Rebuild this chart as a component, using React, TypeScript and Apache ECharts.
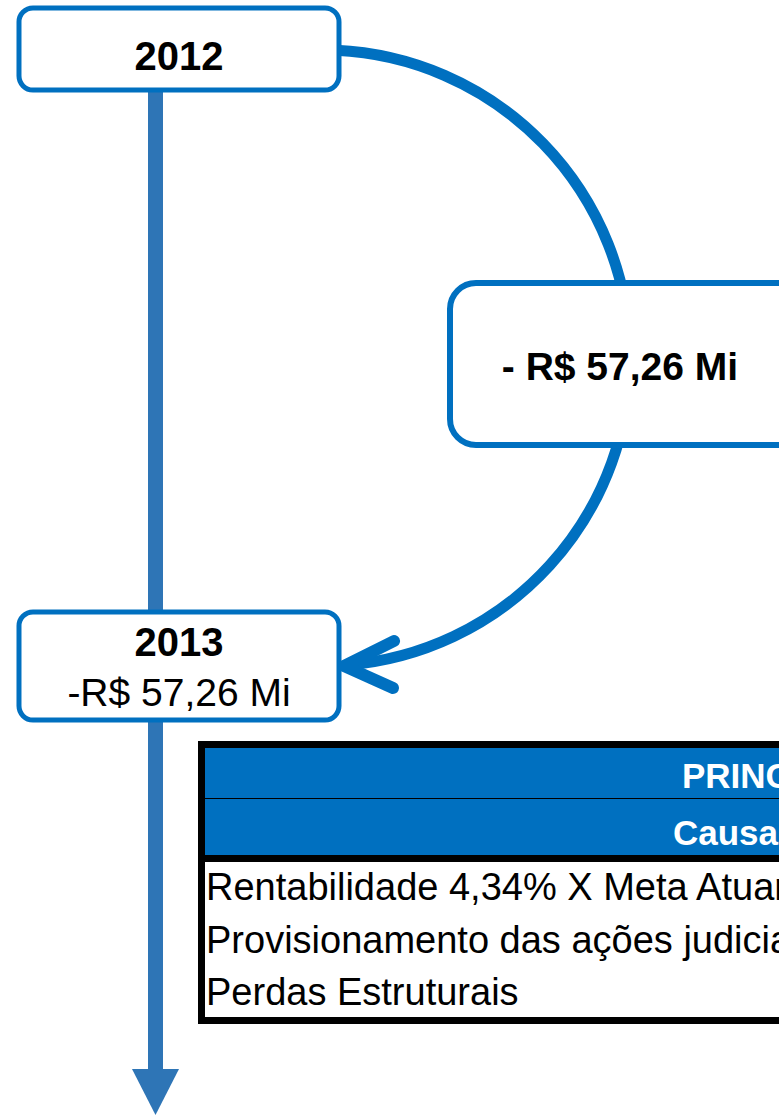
import React, { useEffect, useRef } from "react";
import * as echarts from "echarts";

const years = ["2012", "2013"];
const resultLabel = "- R$ 57,26 Mi";
const resultValue2013 = "-R$ 57,26 Mi";
const tableTitle = "PRINCIPAIS CAUSAS";
const tableHeader = "Causa";
const causes = [
  "Rentabilidade 4,34% X Meta Atuarial",
  "Provisionamento das ações judiciais",
  "Perdas Estruturais",
];

const FONT = '"Liberation Sans", Arial, sans-serif';
const BLUE = "#0070C0";
const LINE_BLUE = "#2E75B6";

export default function App() {
  const ref = useRef<HTMLDivElement>(null);
  useEffect(() => {
    if (!ref.current) return;
    const chart = echarts.init(ref.current, null, { renderer: "svg" });
    const cx = 322, cy = 358, r = 308;
    const a0 = Math.atan2(-Math.sqrt(r * r - 14 * 14), 14);
    const a1 = Math.atan2(Math.sqrt(r * r - 24 * 24), 24);
    const rowYs = [887, 940, 992];
    const graphic: any[] = [
      // vertical timeline
      { type: "rect", z: 1, shape: { x: 148, y: 80, width: 15, height: 992 }, style: { fill: LINE_BLUE } },
      { type: "polygon", z: 1, shape: { points: [[132, 1069], [179, 1069], [155.5, 1115]] }, style: { fill: LINE_BLUE } },
      // curved arrow
      {
        type: "arc", z: 2,
        shape: { cx, cy, r, startAngle: a0, endAngle: a1, clockwise: true },
        style: { stroke: BLUE, lineWidth: 11, fill: null },
      },
      {
        type: "polyline", z: 2,
        shape: { points: [[394, 641], [344, 666], [393, 688]] },
        style: { stroke: BLUE, lineWidth: 12, lineCap: "round", lineJoin: "miter", fill: null },
      },
      // boxes
      { type: "rect", z: 5, shape: { x: 19, y: 8, width: 320, height: 82, r: 14 }, style: { fill: "#fff", stroke: BLUE, lineWidth: 5 } },
      { type: "rect", z: 5, shape: { x: 450, y: 283, width: 420, height: 162, r: 26 }, style: { fill: "#fff", stroke: BLUE, lineWidth: 6 } },
      { type: "rect", z: 5, shape: { x: 19, y: 612, width: 320, height: 108, r: 14 }, style: { fill: "#fff", stroke: BLUE, lineWidth: 5 } },
      { type: "text", z: 6, x: 179, y: 56, style: { text: years[0], font: `bold 40px ${FONT}`, fill: "#000", align: "center", verticalAlign: "middle" } },
      { type: "text", z: 6, x: 620, y: 366, style: { text: resultLabel, font: `bold 39px ${FONT}`, fill: "#000", align: "center", verticalAlign: "middle" } },
      { type: "text", z: 6, x: 179, y: 642, style: { text: years[1], font: `bold 40px ${FONT}`, fill: "#000", align: "center", verticalAlign: "middle" } },
      { type: "text", z: 6, x: 179, y: 692, style: { text: resultValue2013, font: `39px ${FONT}`, fill: "#000", align: "center", verticalAlign: "middle" } },
      // table
      { type: "rect", z: 5, shape: { x: 198, y: 741, width: 700, height: 283 }, style: { fill: "#000" } },
      { type: "rect", z: 6, shape: { x: 205, y: 748, width: 700, height: 50 }, style: { fill: BLUE } },
      { type: "rect", z: 6, shape: { x: 205, y: 799, width: 700, height: 56 }, style: { fill: BLUE } },
      { type: "rect", z: 6, shape: { x: 205, y: 862, width: 700, height: 155 }, style: { fill: "#fff" } },
      { type: "text", z: 7, x: 682, y: 775, style: { text: tableTitle, font: `bold 35px ${FONT}`, fill: "#fff", align: "left", verticalAlign: "middle" } },
      { type: "text", z: 7, x: 673, y: 832, style: { text: tableHeader, font: `bold 35px ${FONT}`, fill: "#fff", align: "left", verticalAlign: "middle" } },
      ...causes.map((c, i) => ({
        type: "text", z: 7, x: 206, y: rowYs[i],
        style: { text: c, font: `38px ${FONT}`, fill: "#000", align: "left", verticalAlign: "middle" },
      })),
    ];
    chart.setOption({ animation: false, backgroundColor: "#fff", graphic });
    return () => chart.dispose();
  }, []);
  return <div ref={ref} style={{ position: "absolute", left: 0, top: 0, width: 779, height: 1115 }} />;
}
